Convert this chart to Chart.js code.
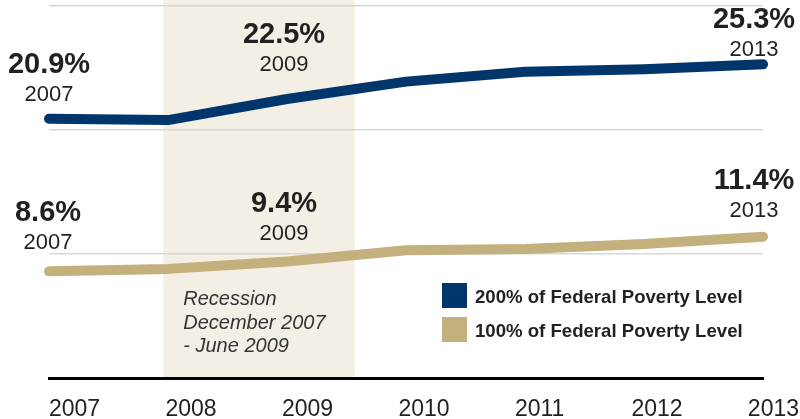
<!DOCTYPE html>
<html>
<head>
<meta charset="utf-8">
<script src="https://cdn.jsdelivr.net/npm/chart.js"></script>
<style>
  body { margin: 0; background: #fff; }
</style>
</head>
<body>
<canvas id="mycanvas" width="800" height="419"></canvas>
<script>
var years = ['2007', '2008', '2009', '2010', '2011', '2012', '2013'];
var fpl200 = [20.9, 20.8, 22.5, 23.9, 24.7, 24.9, 25.3];
var fpl100 = [8.6, 8.8, 9.4, 10.3, 10.4, 10.8, 11.4];
var seriesNames = ['200% of Federal Poverty Level', '100% of Federal Poverty Level'];
var yTicks = [0, 10, 20, 30];
var recession = [2007.96, 2009.57]; // Dec 2007 - June 2009
var recessionNote = ['Recession', 'December 2007', '- June 2009'];
var calloutIdx = [0, 2, 6];

var textColor = '#231f20';
var fontFamily = "'Liberation Sans', Arial, sans-serif";
// [dx, dy] of each callout from its point (layout only)
var calloutShift = [
  [[0, -46], [-3, -56], [-9, -36]],
  [[-1, -50], [-3, -49], [-9, -48]]
];

Chart.defaults.font.family = fontFamily;

var decorations = {
  id: 'decorations',
  beforeDraw: function (chart) {
    var ctx = chart.ctx;
    var x = chart.scales.x;
    var area = chart.chartArea;
    var first = Number(years[0]);
    var x0 = x.getPixelForValue(recession[0] - first);
    var x1 = x.getPixelForValue(recession[1] - first);
    ctx.save();
    ctx.fillStyle = '#f3efe4';
    ctx.fillRect(x0, 0, x1 - x0, area.bottom);
    ctx.restore();
  },
  afterDraw: function (chart) {
    var ctx = chart.ctx;
    var x = chart.scales.x;
    var first = Number(years[0]);
    ctx.save();
    ctx.textBaseline = 'alphabetic';

    // recession note
    var nx = x.getPixelForValue(recession[0] - first) + 20;
    ctx.fillStyle = '#333';
    ctx.textAlign = 'left';
    ctx.font = 'italic 20px ' + fontFamily;
    for (var i = 0; i < recessionNote.length; i++) {
      ctx.fillText(recessionNote[i], nx, 305 + i * 23.5);
    }

    // callouts
    ctx.textAlign = 'center';
    ctx.fillStyle = textColor;
    chart.data.datasets.forEach(function (ds, d) {
      var meta = chart.getDatasetMeta(d);
      calloutIdx.forEach(function (idx, k) {
        var pt = meta.data[idx];
        var cx = pt.x + calloutShift[d][k][0];
        var cy = pt.y + calloutShift[d][k][1];
        ctx.font = 'bold 29px ' + fontFamily;
        ctx.fillText(ds.data[idx].toFixed(1) + '%', cx, cy);
        ctx.font = '22px ' + fontFamily;
        ctx.fillText(chart.data.labels[idx], cx, cy + 28);
      });
    });

    // legend
    ctx.textAlign = 'left';
    chart.data.datasets.forEach(function (ds, d) {
      var ly = 283 + d * 34;
      ctx.fillStyle = ds.borderColor;
      ctx.fillRect(442, ly, 25, 25);
      ctx.fillStyle = textColor;
      ctx.font = 'bold 18.6px ' + fontFamily;
      ctx.fillText(ds.label, 475, ly + 20);
    });
    ctx.restore();
  }
};

var chartdata = {
  labels: years,
  datasets: [{
    label: seriesNames[0],
    data: fpl200,
    borderColor: '#00366b',
    backgroundColor: '#00366b',
    borderWidth: 10,
    borderCapStyle: 'round',
    borderJoinStyle: 'round',
    pointRadius: 0,
    tension: 0,
    fill: false
  }, {
    label: seriesNames[1],
    data: fpl100,
    borderColor: '#c4b07c',
    backgroundColor: '#c4b07c',
    borderWidth: 10,
    borderCapStyle: 'round',
    borderJoinStyle: 'round',
    pointRadius: 0,
    tension: 0,
    fill: false
  }]
};

var ctx = document.getElementById('mycanvas');

var lineGraph = new Chart(ctx, {
  type: 'line',
  data: chartdata,
  plugins: [decorations],
  options: {
    responsive: false,
    animation: false,
    layout: { padding: { left: 49, right: 37, top: 6, bottom: 0 } },
    plugins: {
      legend: { display: false },
      tooltip: { enabled: false }
    },
    scales: {
      x: {
        grid: { display: false },
        border: { display: true, color: '#000', width: 3 },
        ticks: { display: false },
        afterFit: function (scale) {
          scale.height = 0;
          scale.paddingLeft = 0;
          scale.paddingRight = 0;
        }
      },
      x2: {
        type: 'linear',
        position: 'bottom',
        min: Number(years[0]),
        max: Number(years[years.length - 1]) + 0.13,
        grid: { display: false },
        border: { display: false },
        afterBuildTicks: function (scale) {
          scale.ticks = years.map(function (y) { return { value: Number(y) }; });
        },
        ticks: {
          align: 'start',
          autoSkip: false,
          maxRotation: 0,
          padding: 10,
          color: textColor,
          font: { size: 23 },
          callback: function (v) { return String(v); }
        },
        afterFit: function (scale) {
          scale.height = 41;
          scale.paddingLeft = 0;
          scale.paddingRight = 0;
        }
      },
      y: {
        min: yTicks[0],
        max: yTicks[yTicks.length - 1],
        afterBuildTicks: function (scale) {
          scale.ticks = yTicks.map(function (v) { return { value: v }; });
        },
        ticks: { display: false },
        border: { display: false },
        grid: {
          drawTicks: false,
          lineWidth: 1.5,
          color: function (c) { return c.tick && c.tick.value === 0 ? 'rgba(0,0,0,0)' : '#d8d8d8'; }
        },
        afterFit: function (scale) { scale.width = 0; }
      }
    }
  }
});
</script>
</body>
</html>
